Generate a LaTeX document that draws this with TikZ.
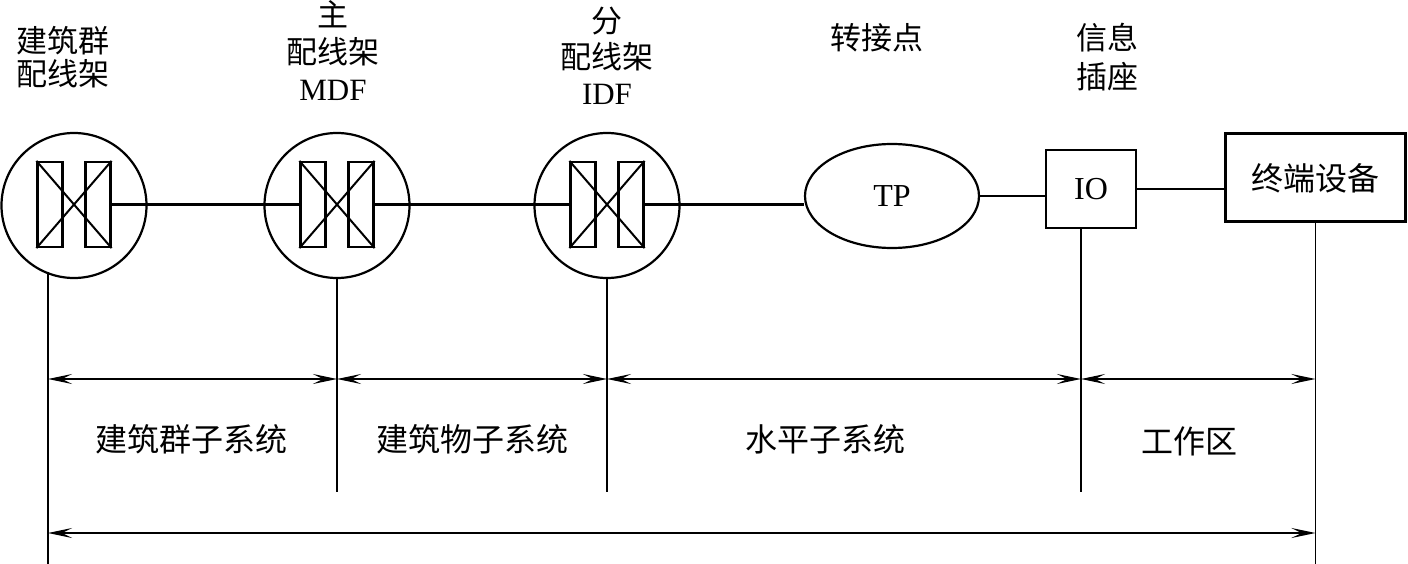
\documentclass[tikz,border=0pt]{standalone}
\usepackage{fontspec}
\setmainfont{Liberation Serif}
\newfontfamily\cjk{Noto Sans CJK SC}
\usetikzlibrary{shapes.geometric,arrows.meta}
\begin{document}
\begin{tikzpicture}[x=1pt,y=-1pt,
  frame/.style={draw,circle,minimum size=145pt,inner sep=0pt,line width=2.2pt},
  rackbar/.style={draw,rectangle,minimum width=25pt,minimum height=85pt,inner sep=0pt,line width=2.2pt},
  wire/.style={line width=2.2pt},
  guide/.style={line width=1.4pt},
  tip/.tip={Stealth[length=24pt,width=10pt,inset=10pt]},
  dim/.style={line width=1.8pt,tip-tip},
  lbl/.style={font=\fontsize{32}{38}\selectfont,align=center,inner sep=0pt},
  boxnode/.style={draw,rectangle,inner sep=0pt,font=\fontsize{32}{38}\selectfont}]
\useasboundingbox (0,0) rectangle (1408,564);

% distribution frames
\foreach \n/\x in {1/74,2/337,3/607}{
  \node[frame] (c\n) at (\x,205.5) {};
  \node[rackbar] (L\n) at (\x-24,204.5) {};
  \node[rackbar] (R\n) at (\x+24,204.5) {};
  \draw[line width=2pt] (L\n.north west) -- (R\n.south east);
  \draw[line width=2pt] (L\n.south west) -- (R\n.north east);
}

\node[draw,ellipse,minimum width=174pt,minimum height=104pt,inner sep=0pt,line width=2.2pt,
      font=\fontsize{32}{36}\selectfont] (tp) at (892,196) {TP};
\node[boxnode,minimum width=90pt,minimum height=78pt,line width=2.4pt] (io) at (1091,189) {IO};
\node[boxnode,minimum width=180pt,minimum height=88pt,line width=3pt] (term) at (1315.5,178) {\cjk 终端设备};

% connectors
\draw[wire] (R1.east) -- (L2.west);
\draw[wire] (R2.east) -- (L3.west);
\draw[wire] (R3.east) -- (R3.east -| tp.west);
\draw[wire] (tp.east) -- (tp.east -| io.west);
\draw[wire] (io.east) -- (io.east -| term.west);

% guide coordinates
\coordinate (bottom) at (0,564);
\coordinate (mid) at (0,492);
\coordinate (row1) at (0,379);
\coordinate (row2) at (0,533);
\coordinate (g1) at (48,272);
\coordinate (g4) at (1081,228);

% vertical guides
\draw[guide] (g1) -- (g1 |- bottom);
\draw[guide] (c2.south) -- (c2.south |- mid);
\draw[guide] (c3.south) -- (c3.south |- mid);
\draw[guide] (g4) -- (g4 |- mid);
\draw[guide] (term.south) -- (term.south |- bottom);

% dimension arrows
\draw[dim] (g1 |- row1) -- (c2.south |- row1);
\draw[dim] (c2.south |- row1) -- (c3.south |- row1);
\draw[dim] (c3.south |- row1) -- (g4 |- row1);
\draw[dim] (g4 |- row1) -- (term.south |- row1);
\draw[dim] (g1 |- row2) -- (term.south |- row2);

% top labels
\node[lbl,font=\fontsize{31}{33}\selectfont] (t1) at (63,57.5) {\cjk 建筑群\\\cjk 配线架};
\node[lbl,font=\fontsize{31}{37}\selectfont] (t2) at (333,51) {\cjk 主\\\cjk 配线架\\MDF};
\node[lbl,font=\fontsize{31}{36}\selectfont] (t3) at (607,56) {\cjk 分\\\cjk 配线架\\IDF};
\node[lbl,font=\fontsize{31}{36}\selectfont] (t4) at (877,38) {\cjk 转接点};
\node[lbl,font=\fontsize{31}{39}\selectfont] (t5) at (1107,57.5) {\cjk 信息\\\cjk 插座};

% bottom labels
\node[lbl] (b1) at (191,439) {\cjk 建筑群子系统};
\node[lbl] (b2) at (472,439) {\cjk 建筑物子系统};
\node[lbl] (b3) at (825,439) {\cjk 水平子系统};
\node[lbl] (b4) at (1189,441) {\cjk 工作区};
\end{tikzpicture}
\end{document}
